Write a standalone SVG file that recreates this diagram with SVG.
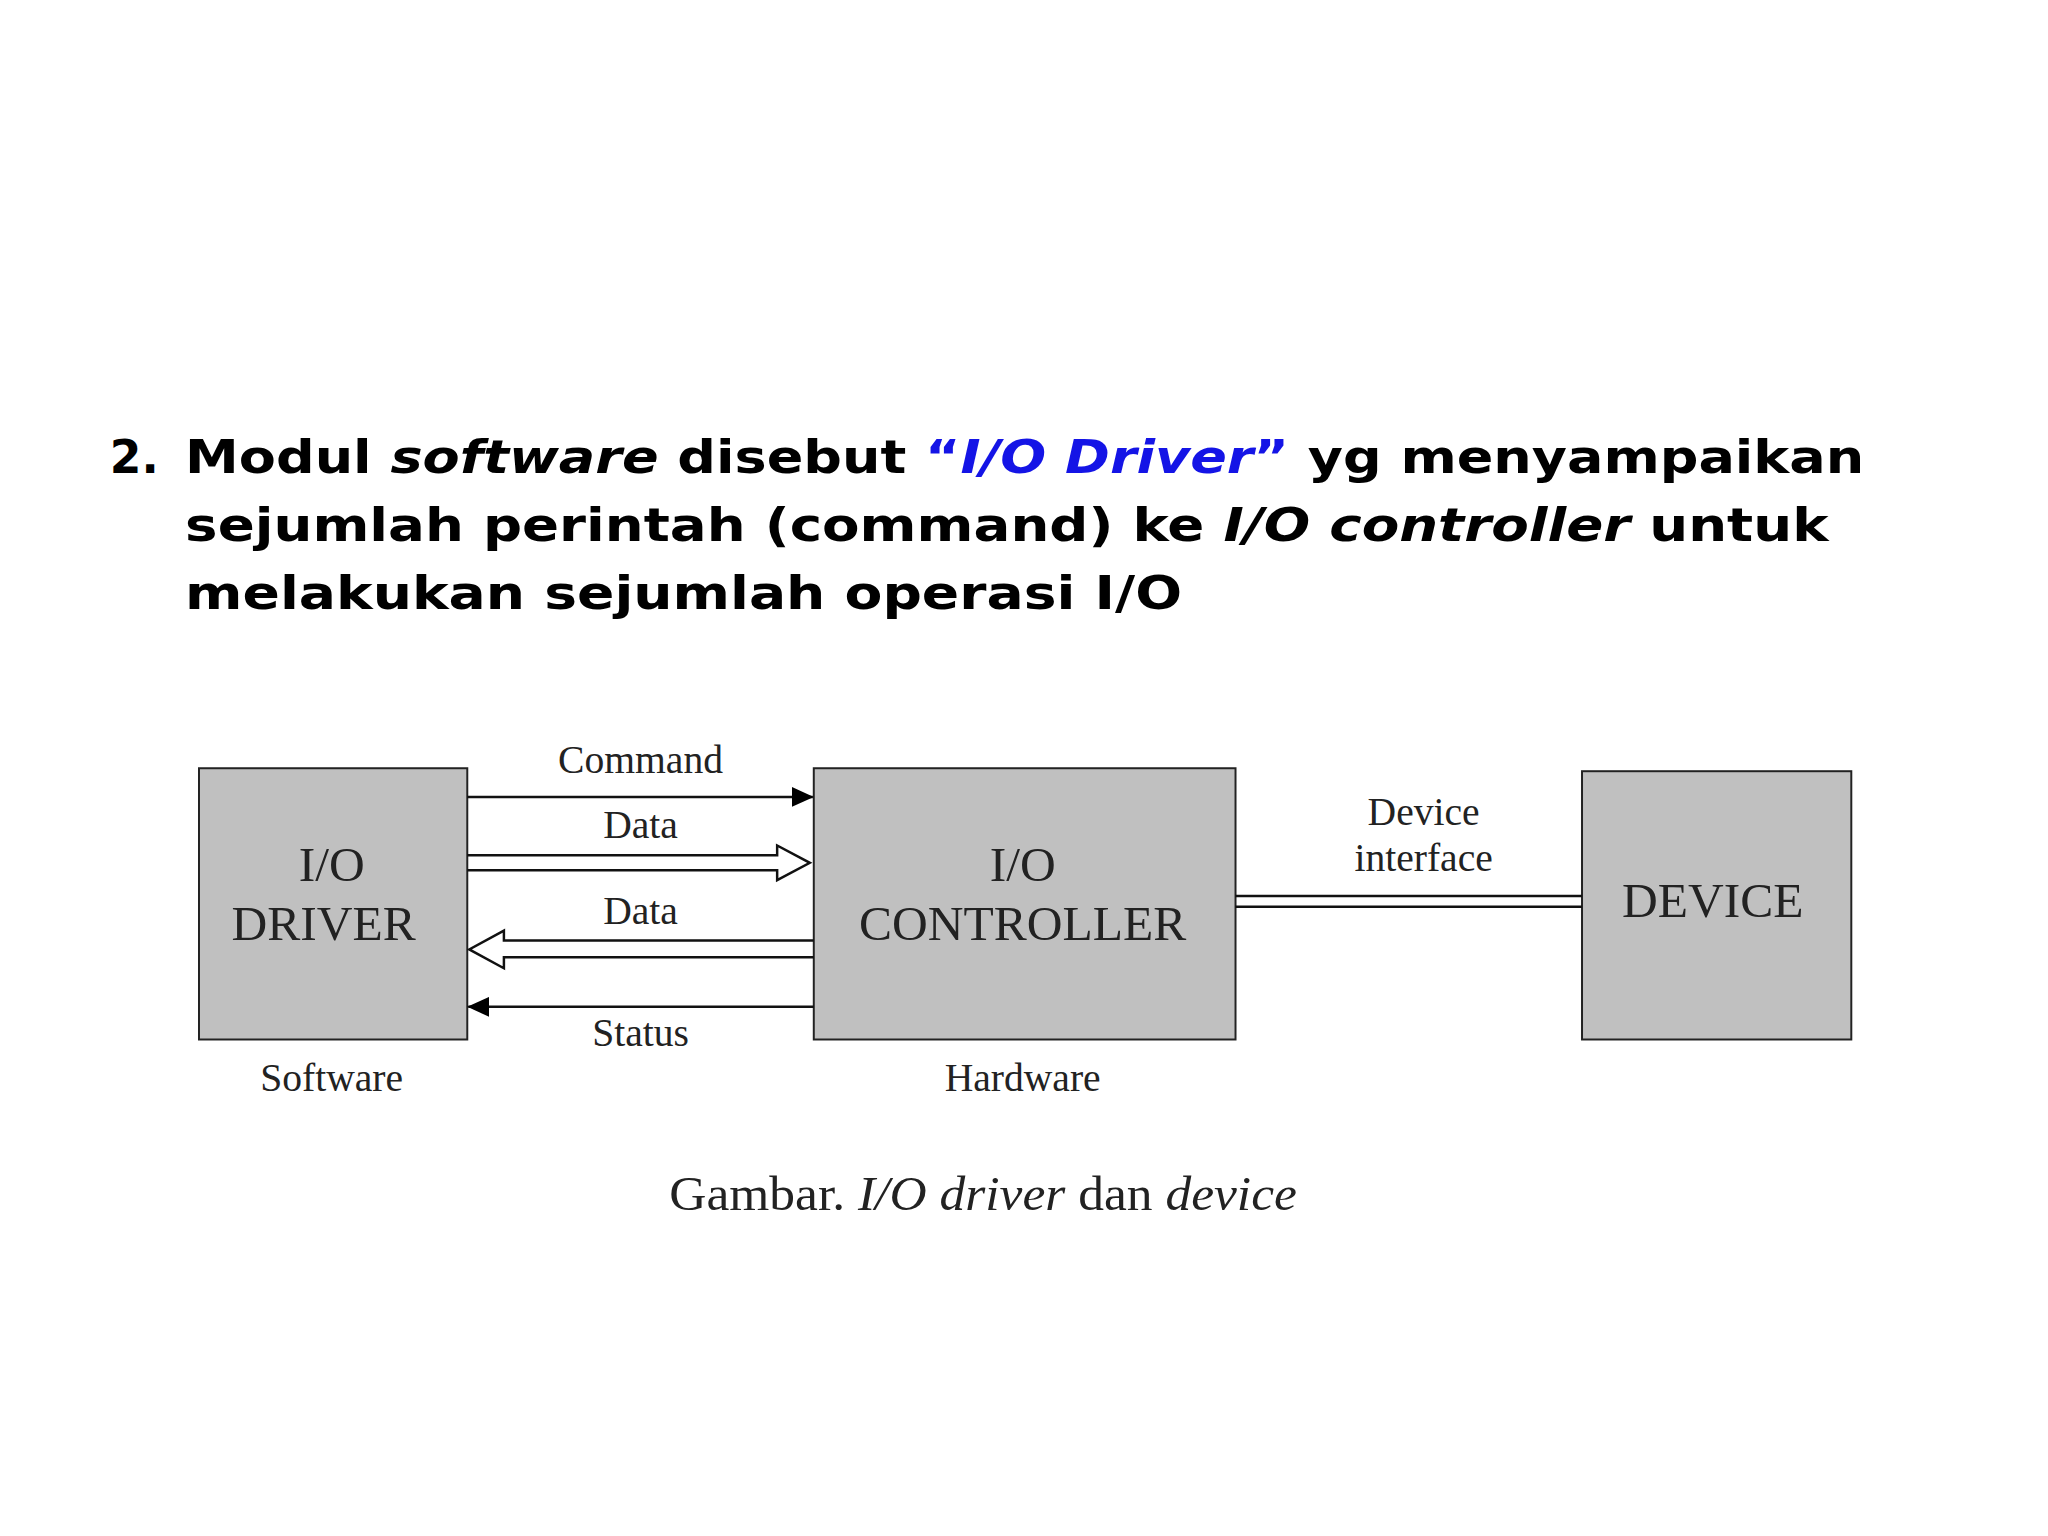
<svg xmlns="http://www.w3.org/2000/svg" width="2048" height="1536" viewBox="0 0 2048 1536">
<style>
.t{font-family:"DejaVu Sans",Verdana,sans-serif;font-weight:bold;font-size:46px;fill:#000}
.s{font-family:"Liberation Serif","Times New Roman",serif;fill:#222}
.b{fill:#c0c0c0;stroke:#222;stroke-width:2}
.l{stroke:#111;stroke-width:2.5;fill:none}
</style>
<defs>
<marker id="ah" markerWidth="22" markerHeight="20" refX="21" refY="10" orient="auto" markerUnits="userSpaceOnUse"><path d="M0,0 L22,10 L0,20 Z" fill="#000"/></marker>
</defs>
<rect width="2048" height="1536" fill="#fff"/>
<g transform="scale(0.99)">
<text class="t" x="111" y="478">2.</text>
<text class="t" x="187" y="478" textLength="1696" lengthAdjust="spacingAndGlyphs">Modul <tspan font-style="italic">software</tspan> disebut <tspan fill="#1414e6">“<tspan font-style="italic">I/O Driver</tspan>”</tspan> yg menyampaikan</text>
<text class="t" x="187" y="546" textLength="1660" lengthAdjust="spacingAndGlyphs">sejumlah perintah (command) ke <tspan font-style="italic">I/O controller</tspan> untuk</text>
<text class="t" x="187" y="615" textLength="1007" lengthAdjust="spacingAndGlyphs">melakukan sejumlah operasi I/O</text>
<g id="driver"><rect class="b" x="201" y="776" width="271" height="274"/>
<text class="s" x="335" y="890" font-size="50" text-anchor="middle">I/O</text>
<text class="s" x="327" y="950" font-size="50" text-anchor="middle">DRIVER</text></g>
<g id="controller"><rect class="b" x="822" y="776" width="426" height="274"/>
<text class="s" x="1033" y="890" font-size="50" text-anchor="middle">I/O</text>
<text class="s" x="1033" y="950" font-size="50" text-anchor="middle">CONTROLLER</text></g>
<g id="device"><rect class="b" x="1598" y="779" width="272" height="271"/>
<text class="s" x="1730" y="926" font-size="50" text-anchor="middle">DEVICE</text></g>
<g id="connectors">
<line class="l" x1="472" y1="805" x2="821" y2="805" marker-end="url(#ah)"/>
<path class="l" d="M472,864 H785 V854 L818,871.5 L785,889 V879 H472"/>
<path class="l" d="M822,950 H509 V940 L474,959 L509,978 V967 H822"/>
<line class="l" x1="822" y1="1017" x2="473" y2="1017" marker-end="url(#ah)"/>
<line class="l" x1="1248" y1="905" x2="1598" y2="905"/>
<line class="l" x1="1248" y1="916" x2="1598" y2="916"/>
</g>
<g class="s" font-size="40" text-anchor="middle">
<text x="647" y="781">Command</text>
<text x="647" y="846">Data</text>
<text x="647" y="933">Data</text>
<text x="647" y="1057">Status</text>
<text x="1438" y="833">Device</text>
<text x="1438" y="880">interface</text>
<text x="335" y="1102">Software</text>
<text x="1033" y="1102">Hardware</text>
</g>
<text class="s" x="676" y="1222" font-size="50" textLength="634" lengthAdjust="spacingAndGlyphs">Gambar. <tspan font-style="italic">I/O driver</tspan> dan <tspan font-style="italic">device</tspan></text>
</g>
</svg>
